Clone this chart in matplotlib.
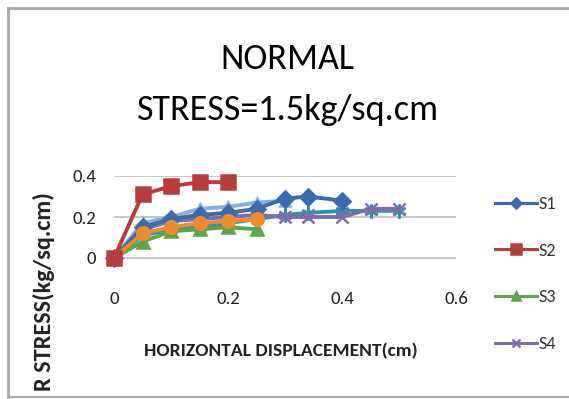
import matplotlib
matplotlib.use("Agg")
import matplotlib.pyplot as plt
from matplotlib import font_manager
from matplotlib.lines import Line2D

avail = {f.name for f in font_manager.fontManager.ttflist}
FONT = next((f for f in ["Carlito", "Liberation Sans Narrow", "Lato", "DejaVu Sans"] if f in avail), "DejaVu Sans")
plt.rcParams['font.family'] = [FONT, 'DejaVu Sans']

# ---- data ----
s1_x = [0, 0.05, 0.10, 0.15, 0.20, 0.25, 0.30, 0.34, 0.40]
s1_y = [0, 0.15, 0.19, 0.21, 0.22, 0.24, 0.29, 0.30, 0.28]
s2_x = [0, 0.05, 0.10, 0.15, 0.20]
s2_y = [0, 0.31, 0.35, 0.37, 0.37]
s3_x = [0, 0.05, 0.10, 0.15, 0.20, 0.25]
s3_y = [0, 0.08, 0.13, 0.14, 0.15, 0.14]
s4_x = [0, 0.05, 0.10, 0.15, 0.20, 0.25, 0.30, 0.34, 0.40, 0.45, 0.50]
s4_y = [0, 0.14, 0.18, 0.19, 0.20, 0.21, 0.20, 0.20, 0.20, 0.24, 0.24]
s5_x = [0, 0.05, 0.10, 0.15, 0.20, 0.25, 0.30, 0.34, 0.40, 0.45, 0.50]
s5_y = [0, 0.11, 0.14, 0.15, 0.17, 0.19, 0.21, 0.22, 0.23, 0.23, 0.23]
s6_x = [0, 0.05, 0.10, 0.15, 0.20, 0.25]
s6_y = [0, 0.12, 0.15, 0.17, 0.18, 0.19]
s7_x = [0, 0.05, 0.10, 0.15, 0.20, 0.25, 0.30]
s7_y = [0, 0.17, 0.20, 0.24, 0.25, 0.27, 0.28]

x_ticks = [0, 0.2, 0.4, 0.6]
x_tick_labels = ["0", "0.2", "0.4", "0.6"]
y_ticks = [0, 0.2, 0.4]
y_tick_labels = ["0", "0.2", "0.4"]

title = "NORMAL\nSTRESS=1.5kg/sq.cm"
xlabel = "HORIZONTAL DISPLACEMENT(cm)"
ylabel = "R STRESS(kg/sq.cm)"   # visible part of the (cropped) axis title

W, H = 569, 399
fig = plt.figure(figsize=(W / 100, H / 100), dpi=100)
fig.patch.set_facecolor("white")

ax = fig.add_axes([114 / W, 120.5 / H, 342 / W, 102.5 / H])
ax.set_xlim(0, 0.6)
ax.set_ylim(-0.1, 0.4)
for sp in ax.spines.values():
    sp.set_visible(False)
ax.set_yticks(y_ticks)
ax.set_yticklabels(y_tick_labels)
ax.set_xticks(x_ticks)
ax.set_xticklabels(x_tick_labels)
ax.tick_params(axis="both", length=0, labelsize=13.5, colors="#222222")
ax.tick_params(axis="y", pad=13)
ax.tick_params(axis="x", pad=9)
ax.yaxis.grid(True, color="#BEBEBE", lw=1.2)
ax.set_axisbelow(True)

lw = 2.8
series = [
    (s7_x, s7_y, "#86AEE0", "^", 7, "S7"),
    (s5_x, s5_y, "#2E93A8", (6, 2, 0), 10, "S5"),
    (s4_x, s4_y, "#7E6BB0", "x", 9, "S4"),
    (s1_x, s1_y, "#3B6AB0", "D", 8, "S1"),
    (s3_x, s3_y, "#5FA34A", "^", 9, "S3"),
    (s6_x, s6_y, "#F08A2E", "o", 9, "S6"),
    (s2_x, s2_y, "#B83C3A", "s", 10, "S2"),
]
handles = {}
for x, y, c, m, ms, lab in series:
    h, = ax.plot(x, y, color=c, lw=lw, marker=m, ms=ms, mfc=c, mec=c,
                 mew=1.8, label=lab, clip_on=False)
    handles[lab] = h

leg = fig.legend([handles[k] for k in ["S1", "S2", "S3", "S4"]],
                 ["S1", "S2", "S3", "S4"],
                 loc="center left", bbox_to_anchor=(479 / W, 1 - 274 / H),
                 frameon=False, fontsize=13, labelspacing=1.7,
                 handlelength=2.3, handletextpad=0.1, markerscale=0.7)
for t in leg.get_texts():
    t.set_color("#333333")
for lh in leg.get_lines():
    lh.set_linewidth(2.2)

fig.text(287 / W, 1 - 84.5 / H, title, ha="center", va="center",
         fontsize=26, color="black", linespacing=1.7)
fig.text(281 / W, 1 - 351 / H, xlabel, ha="center", va="center",
         fontsize=14, fontweight="bold", color="#222222")
fig.text(44 / W, 1 - 292 / H, ylabel, ha="center", va="center",
         rotation=90, fontsize=17.5, fontweight="bold", color="#222222")

# outer chart border (cropped screenshot)
bc = "#A8A8A8"
fig.add_artist(Line2D([8 / W, 1], [1 - 8 / H, 1 - 8 / H], color=bc, lw=2))
fig.add_artist(Line2D([8 / W, 8 / W], [1 - 8 / H, 1 - 397 / H], color=bc, lw=2))
fig.add_artist(Line2D([8 / W, 1], [1 - 397 / H, 1 - 397 / H], color=bc, lw=1.5))

fig.savefig("out.png", dpi=100)
